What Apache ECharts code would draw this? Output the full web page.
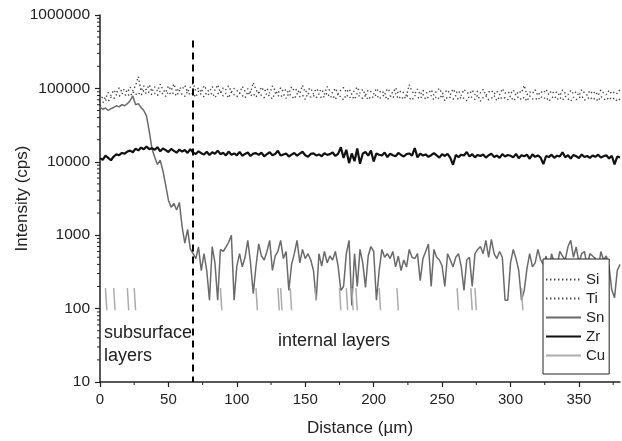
<!DOCTYPE html>
<html><head><meta charset="utf-8">
<script src="https://cdn.jsdelivr.net/npm/echarts@6/dist/echarts.min.js"></script>
<style>html,body{margin:0;padding:0;background:#fff}#c{width:622px;height:441px}</style>
</head><body><div id="c"></div>
<script>
const distance = [0,2,4,6,8,10,12,14,16,18,20,22,24,26,28,30,32,34,36,38,40,42,44,46,48,50,52,54,56,58,60,62,64,66,68,70,72,74,76,78,80,82,84,86,88,90,92,94,96,98,100,102,104,106,108,110,112,114,116,118,120,122,124,126,128,130,132,134,136,138,140,142,144,146,148,150,152,154,156,158,160,162,164,166,168,170,172,174,176,178,180,182,184,186,188,190,192,194,196,198,200,202,204,206,208,210,212,214,216,218,220,222,224,226,228,230,232,234,236,238,240,242,244,246,248,250,252,254,256,258,260,262,264,266,268,270,272,274,276,278,280,282,284,286,288,290,292,294,296,298,300,302,304,306,308,310,312,314,316,318,320,322,324,326,328,330,332,334,336,338,340,342,344,346,348,350,352,354,356,358,360,362,364,366,368,370,372,374,376,378,380];

const si = [66000,78000,72000,88000,80000,95000,86000,102000,90000,98000,
88000,104000,93000,110000,145000,92000,108000,95000,112000,90000,
105000,92000,114000,96000,88000,108000,94000,115000,90000,103000,
97000,110000,89000,104000,118000,93000,101000,88000,109000,96000,
90000,106000,94000,112000,87000,102000,96000,108000,89000,100000,
94000,85000,106000,92000,99000,88000,120000,95000,86000,104000,
91000,100000,86000,108000,93000,84000,102000,90000,97000,86000,
105000,92000,98000,85000,110000,88000,96000,101000,84000,99000,
90000,97000,83000,106000,92000,87000,100000,84000,95000,103000,
88000,98000,83000,94000,104000,86000,97000,81000,95000,90000,
84000,100000,88000,93000,82000,99000,90000,86000,102000,85000,
93000,87000,80000,112000,91000,84000,98000,82000,94000,88000,
86000,96000,81000,92000,100000,84000,89000,95000,82000,98000,
86000,93000,80000,97000,88000,84000,95000,82000,92000,87000,
97000,80000,89000,94000,84000,92000,82000,99000,86000,90000,
84000,95000,80000,92000,87000,110000,82000,90000,85000,96000,
80000,91000,86000,97000,82000,93000,85000,90000,79000,95000,
86000,82000,94000,84000,90000,79000,96000,87000,81000,93000,
84000,91000,80000,95000,86000,82000,94000,84000,90000,85000,96000];

const ti = [58000,64000,70000,66000,76000,72000,82000,78000,86000,80000,
84000,78000,90000,82000,88000,80000,94000,84000,90000,82000,
86000,80000,92000,84000,78000,90000,82000,88000,79000,94000,
83000,78000,90000,81000,86000,76000,92000,82000,77000,88000,
80000,87000,75000,84000,91000,79000,86000,74000,89000,82000,
77000,86000,80000,74000,90000,79000,85000,76000,88000,80000,
75000,86000,78000,72000,87000,80000,76000,84000,73000,86000,
78000,72000,85000,77000,81000,71000,87000,76000,80000,74000,
84000,73000,78000,87000,75000,80000,71000,84000,76000,70000,
82000,74000,78000,71000,86000,76000,73000,80000,70000,78000,
75000,83000,72000,78000,81000,70000,79000,74000,85000,72000,
78000,71000,81000,74000,69000,80000,76000,72000,83000,71000,
76000,80000,70000,78000,72000,82000,68000,77000,75000,71000,
80000,70000,77000,73000,68000,79000,75000,71000,81000,67000,
75000,79000,70000,73000,80000,68000,77000,72000,75000,70000,
79000,68000,73000,77000,70000,76000,67000,79000,72000,74000,
69000,78000,72000,76000,67000,74000,79000,70000,76000,69000,
78000,72000,67000,76000,70000,74000,79000,69000,72000,77000,
70000,74000,67000,78000,72000,69000,76000,70000,74000,67000,72000];

const sn = [55000,52000,54000,50000,53000,55000,58000,56000,60000,58000,
62000,68000,79000,60000,62000,55000,50000,42000,26000,15000,
11500,9200,10500,7500,4800,3000,2400,2700,2200,2800,
1300,780,1200,650,560,
480,690,330,560,330,130,700,420,130,640,600,690,800,1000,130,
380,560,370,500,850,420,160,380,760,520,
460,600,850,330,520,600,850,480,600,177,
400,560,850,420,640,480,560,460,330,130,
560,380,600,420,520,460,600,380,177,200,
560,850,110,560,200,640,420,195,520,700,
600,130,330,640,500,560,480,600,370,520,
330,460,370,640,500,480,560,240,480,600,
760,200,640,500,460,380,200,560,460,370,
500,560,370,177,460,500,200,560,640,700,
560,850,500,880,560,480,600,500,130,130,
420,640,480,330,130,177,350,560,370,420,
640,460,400,520,300,560,420,380,600,520,
460,700,850,500,690,420,560,600,380,560,
520,480,330,600,460,520,370,180,140,330,400];

const zr = [11200,10600,12100,11300,10500,11800,12600,12300,13200,12900,
13800,14200,13500,15100,14300,15600,14800,16200,14900,15300,
14600,15800,13900,15200,14400,13600,15000,14100,13300,14700,
13800,14500,13200,14900,13400,12800,13900,13100,12600,13700,
12400,13500,12900,14200,12700,13300,12200,13800,12500,13000,
12300,13600,12100,12800,13400,12000,12900,13100,12400,13300,
11900,12700,13500,12300,12800,14100,12200,12600,13000,11800,
12500,13200,12100,12900,13700,12300,11700,12800,13000,12200,
12600,11900,13100,12400,12700,13400,12000,12800,15800,11300,
14600,9600,13000,10200,15200,9400,12900,13600,12100,14300,
10100,13000,12500,12200,13400,11600,12900,12300,11900,13200,
12400,11800,12700,13000,12100,15400,11500,12900,12200,12600,
11700,12300,13100,12200,11400,12700,12000,12800,11300,9100,
12400,11600,12500,12200,13600,11800,12700,11500,12400,12000,
12600,11400,12300,12900,11600,12200,11300,12700,11800,12400,
12100,11500,12800,11200,12300,11900,12500,11000,12600,11700,
12200,11400,9300,12000,11600,12500,11300,12100,11800,13500,
11500,12300,11100,12400,11900,11200,12600,11600,12000,11300,
12200,11700,12500,11400,11900,12300,11100,12100,9200,11800,11500];

const cuDist = [4,5,6, 10,11,12, 20,21,22, 25,26,27, 88,89,90, 114,115,116, 130,131,131.5, 132,133,134, 139,140,141, 157,158,159, 175,176,177, 180,181,182, 184,185,185.5, 187,188,189, 204,205,206, 217,218,219, 261,262,263, 271,272,273, 274,275,276, 308,309,310];
const cuVal  = [190,95,null, 190,95,null, 190,95,null, 190,95,null, 190,95,null, 190,95,null, 190,95,null, 190,95,null, 190,95,null, 190,130,null, 190,95,null, 190,95,null, 190,95,null, 190,95,null, 190,95,null, 190,95,null, 190,95,null, 190,95,null, 190,95,null, 190,95,null];

const xTicks = [0,50,100,150,200,250,300,350];
const xMinorTicks = [25,75,125,175,225,275,325,375];
const yMinorTicks = [20,30,40,50,60,70,80,90,200,300,400,500,600,700,800,900,2000,3000,4000,5000,6000,7000,8000,9000,20000,30000,40000,50000,60000,70000,80000,90000,200000,300000,400000,500000,600000,700000,800000,900000];
const dividerX = 67.5;
const dividerTop = 450000;

const pair = (xs, ys) => xs.map((x, i) => [x, ys[i]]);
const FONT = '"Liberation Sans", Arial, sans-serif';
const TXT = '#222';

const chart = echarts.init(document.getElementById('c'), null, {renderer: 'canvas'});
chart.setOption({
  animation: false,
  backgroundColor: '#fff',
  grid: {left: 100, right: 2, top: 15, bottom: 59, containLabel: false, outerBoundsMode: 'none'},
  xAxis: {
    type: 'value', min: 0, max: 380, interval: 50,
    name: 'Distance (µm)', nameLocation: 'middle', nameGap: 38, nameMoveOverlap: false,
    nameTextStyle: {fontFamily: FONT, fontSize: 17, color: TXT},
    axisLine: {onZero: false, lineStyle: {color: '#222', width: 1.5}},
    axisTick: {length: 5, customValues: xTicks, lineStyle: {color: '#222', width: 1.2}},
    axisLabel: {customValues: xTicks, fontFamily: FONT, fontSize: 15, color: TXT, margin: 10},
    splitLine: {show: false}
  },
  yAxis: {
    type: 'log', logBase: 10, min: 10, max: 1000000,
    name: 'Intensity (cps)', nameLocation: 'middle', nameGap: 69, nameMoveOverlap: false,
    nameTextStyle: {fontFamily: FONT, fontSize: 17, color: TXT},
    axisLine: {onZero: false, lineStyle: {color: '#222', width: 1.5}},
    axisTick: {length: 5, lineStyle: {color: '#222', width: 1.2}},
    axisLabel: {formatter: v => String(Math.round(v)), fontFamily: FONT, fontSize: 15.5, color: TXT, margin: 10},
    splitLine: {show: false}
  },
  legend: {
    data: ['Si', 'Ti', 'Sn', 'Zr', 'Cu'],
    orient: 'vertical', left: 543, top: 259,
    padding: [13, 4, 11, 2], itemWidth: 35, itemHeight: 14, itemGap: 4,
    borderColor: '#222', borderWidth: 1, backgroundColor: '#fff',
    selectedMode: false,
    itemStyle: {opacity: 0},
    textStyle: {fontFamily: FONT, fontSize: 15, color: TXT}
  },
  graphic: [
    {type: 'text', left: 104, top: 324, style: {text: 'subsurface', font: '18px "Liberation Sans", Arial, sans-serif', fill: TXT}},
    {type: 'text', left: 104, top: 347, style: {text: 'layers', font: '18px "Liberation Sans", Arial, sans-serif', fill: TXT}},
    {type: 'text', left: 278, top: 332, style: {text: 'internal layers', font: '18px "Liberation Sans", Arial, sans-serif', fill: TXT}}
  ],
  series: [
    {name: 'Si', type: 'line', data: pair(distance, si), showSymbol: false, symbol: 'none',
     lineStyle: {color: '#444', width: 1.4, type: [1.4, 2.6]}, itemStyle: {color: '#444'}},
    {name: 'Ti', type: 'line', data: pair(distance, ti), showSymbol: false, symbol: 'none',
     lineStyle: {color: '#444', width: 1.4, type: [1.4, 2.6]}, itemStyle: {color: '#444'}},
    {name: 'Sn', type: 'line', data: pair(distance, sn), showSymbol: false, symbol: 'none',
     lineStyle: {color: '#6a6a6a', width: 1.5}, itemStyle: {color: '#6a6a6a'}},
    {name: 'Zr', type: 'line', data: pair(distance, zr), showSymbol: false, symbol: 'none',
     lineStyle: {color: '#111', width: 2.2}, itemStyle: {color: '#111'},
     markLine: {silent: true, symbol: ['none', 'none'], label: {show: false},
       lineStyle: {type: [7, 5], width: 2, color: '#000'},
       data: [[{coord: [dividerX, dividerTop]}, {coord: [dividerX, 10]}]]}},
    {name: 'Cu', type: 'line', data: pair(cuDist, cuVal), showSymbol: false, symbol: 'none', connectNulls: false,
     lineStyle: {color: '#ababab', width: 1.5}, itemStyle: {color: '#ababab'}},
    {name: 'yMinor', type: 'custom', silent: true, clip: false, z: 5,
     data: yMinorTicks.map(v => [0, v]),
     renderItem: (p, api) => {
       const pt = api.coord([api.value(0), api.value(1)]);
       return {type: 'line', shape: {x1: pt[0] - 3, y1: pt[1], x2: pt[0], y2: pt[1]}, style: {stroke: '#222', lineWidth: 1}};
     }},
    {name: 'xMinor', type: 'custom', silent: true, clip: false, z: 5,
     data: xMinorTicks.map(v => [v, 10]),
     renderItem: (p, api) => {
       const pt = api.coord([api.value(0), api.value(1)]);
       return {type: 'line', shape: {x1: pt[0], y1: pt[1], x2: pt[0], y2: pt[1] + 3}, style: {stroke: '#222', lineWidth: 1}};
     }}
  ]
});
</script></body></html>
